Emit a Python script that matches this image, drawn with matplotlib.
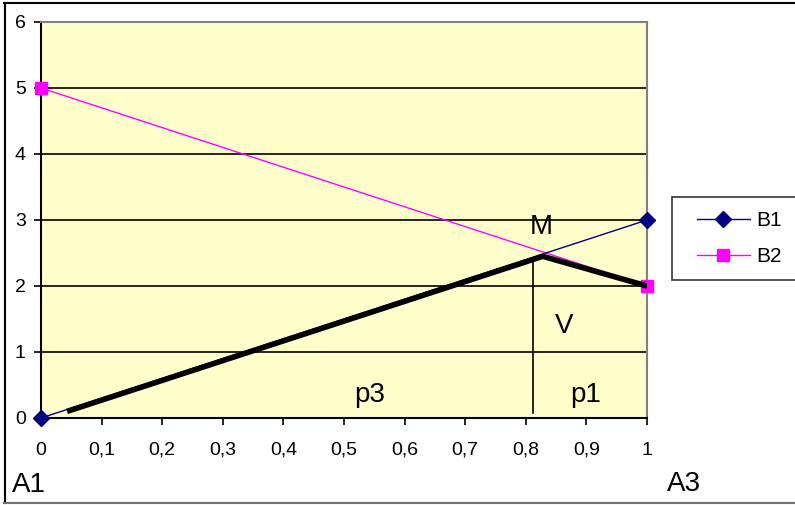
import matplotlib
matplotlib.use("Agg")
import numpy as np
import matplotlib.pyplot as plt
from matplotlib.lines import Line2D
from matplotlib.legend_handler import HandlerLine2D

plt.rcParams['font.family'] = ['Liberation Sans', 'DejaVu Sans']

# Data
x_vals = [0, 1]
b1_vals = [0, 3]
b2_vals = [5, 2]
thick_x = [0.043, 0.828, 1.0]
thick_y = [0.10, 2.45, 2.0]
vline_x = 0.812
vline_y = [0.08, 2.40]
x_ticks = [0, 0.1, 0.2, 0.3, 0.4, 0.5, 0.6, 0.7, 0.8, 0.9, 1.0]
x_tick_labels = ["0", "0,1", "0,2", "0,3", "0,4", "0,5", "0,6", "0,7", "0,8", "0,9", "1"]
y_ticks = [0, 1, 2, 3, 4, 5, 6]
annotations = [("M", 0.825, 2.79), ("V", 0.863, 1.29), ("p3", 0.543, 0.24), ("p1", 0.898, 0.24)]

W, H = 795, 505
fig = plt.figure(figsize=(W / 100, H / 100), dpi=100)
fig.patch.set_facecolor('white')

# outer border (left, top black; bottom gray)
tf = fig.transFigure
fig.add_artist(Line2D([4.5 / W, 4.5 / W], [1 - 3 / H, 1 - 502.5 / H], transform=tf, color='black', lw=1.5))
fig.add_artist(Line2D([4 / W, 1], [1 - 3 / H, 1 - 3 / H], transform=tf, color='black', lw=1.5))
fig.add_artist(Line2D([4 / W, 1], [1 - 502.5 / H, 1 - 502.5 / H], transform=tf, color='#707070', lw=1.5))

left, right, top, bottom = 41, 647, 22, 418
ax = fig.add_axes([left / W, 1 - bottom / H, (right - left) / W, (bottom - top) / H])
ax.set_facecolor('#FFFFCC')
ax.set_xlim(0, 1)
ax.set_ylim(0, 6)

for y in y_ticks[1:-1]:
    ax.axhline(y, color='black', linewidth=1.2, zorder=1)

ax.plot(x_vals, b2_vals, color='#FF00FF', linewidth=1, marker='s', markersize=8,
        label='B2', zorder=3, clip_on=False)
ax.plot(x_vals, b1_vals, color='#000080', linewidth=1, marker='D', markersize=8,
        label='B1', zorder=3, clip_on=False)
ax.plot(thick_x, thick_y, color='black', linewidth=4, solid_capstyle='butt', zorder=4)
ax.plot([vline_x, vline_x], vline_y, color='black', linewidth=1.2, zorder=2)

for txt, tx, ty in annotations:
    ax.text(tx, ty, txt, fontsize=20, ha='center', va='baseline', zorder=5)

ax.set_xticks(x_ticks)
ax.set_xticklabels(x_tick_labels, fontsize=14)
ax.set_yticks(y_ticks)
ax.set_yticklabels([str(v) for v in y_ticks], fontsize=14)
ax.tick_params(axis='x', direction='out', length=5, width=1.2, pad=12, color='black')
ax.tick_params(axis='y', direction='out', length=5, width=1.2, pad=6, color='black')

ax.spines['left'].set_color('black')
ax.spines['left'].set_linewidth(1.5)
ax.spines['bottom'].set_color('black')
ax.spines['bottom'].set_linewidth(1.5)
ax.spines['top'].set_color('#808080')
ax.spines['top'].set_linewidth(1.5)
ax.spines['right'].set_color('#808080')
ax.spines['right'].set_linewidth(1.5)

fig.text(12 / W, 1 - 492 / H, "A1", fontsize=20, ha='left', va='baseline')
fig.text(667 / W, 1 - 491 / H, "A3", fontsize=20, ha='left', va='baseline')


class ShiftedLineHandler(HandlerLine2D):
    """Line handle with extra left inset (in points)."""
    def __init__(self, inset, **kw):
        super().__init__(**kw)
        self.inset = inset

    def create_artists(self, legend, orig_handle, xdescent, ydescent, width, height,
                       fontsize, trans):
        arts = super().create_artists(legend, orig_handle, xdescent, ydescent, width,
                                      height, fontsize, trans)
        s, e = self.inset - xdescent, width - xdescent
        for a in arts:
            n = len(a.get_xdata())
            if n == 1:
                a.set_xdata([(s + e) / 2])
            else:
                a.set_xdata(np.linspace(s, e, n))
        return arts


handles, labels = ax.get_legend_handles_labels()
order = [1, 0]
leg = fig.legend([handles[i] for i in order], [labels[i] for i in order],
                 loc='upper left', bbox_to_anchor=(672 / W, 1 - 272 / H, 140 / W, 75 / H),
                 mode='expand', fontsize=15,
                 handler_map={Line2D: ShiftedLineHandler(7.6)},
                 frameon=True, fancybox=False, edgecolor='black', handlelength=3.05,
                 borderpad=0.69, labelspacing=0.8, borderaxespad=0, handletextpad=0.29)
leg.get_frame().set_linewidth(1.2)

fig.savefig('out.png', dpi=100)
